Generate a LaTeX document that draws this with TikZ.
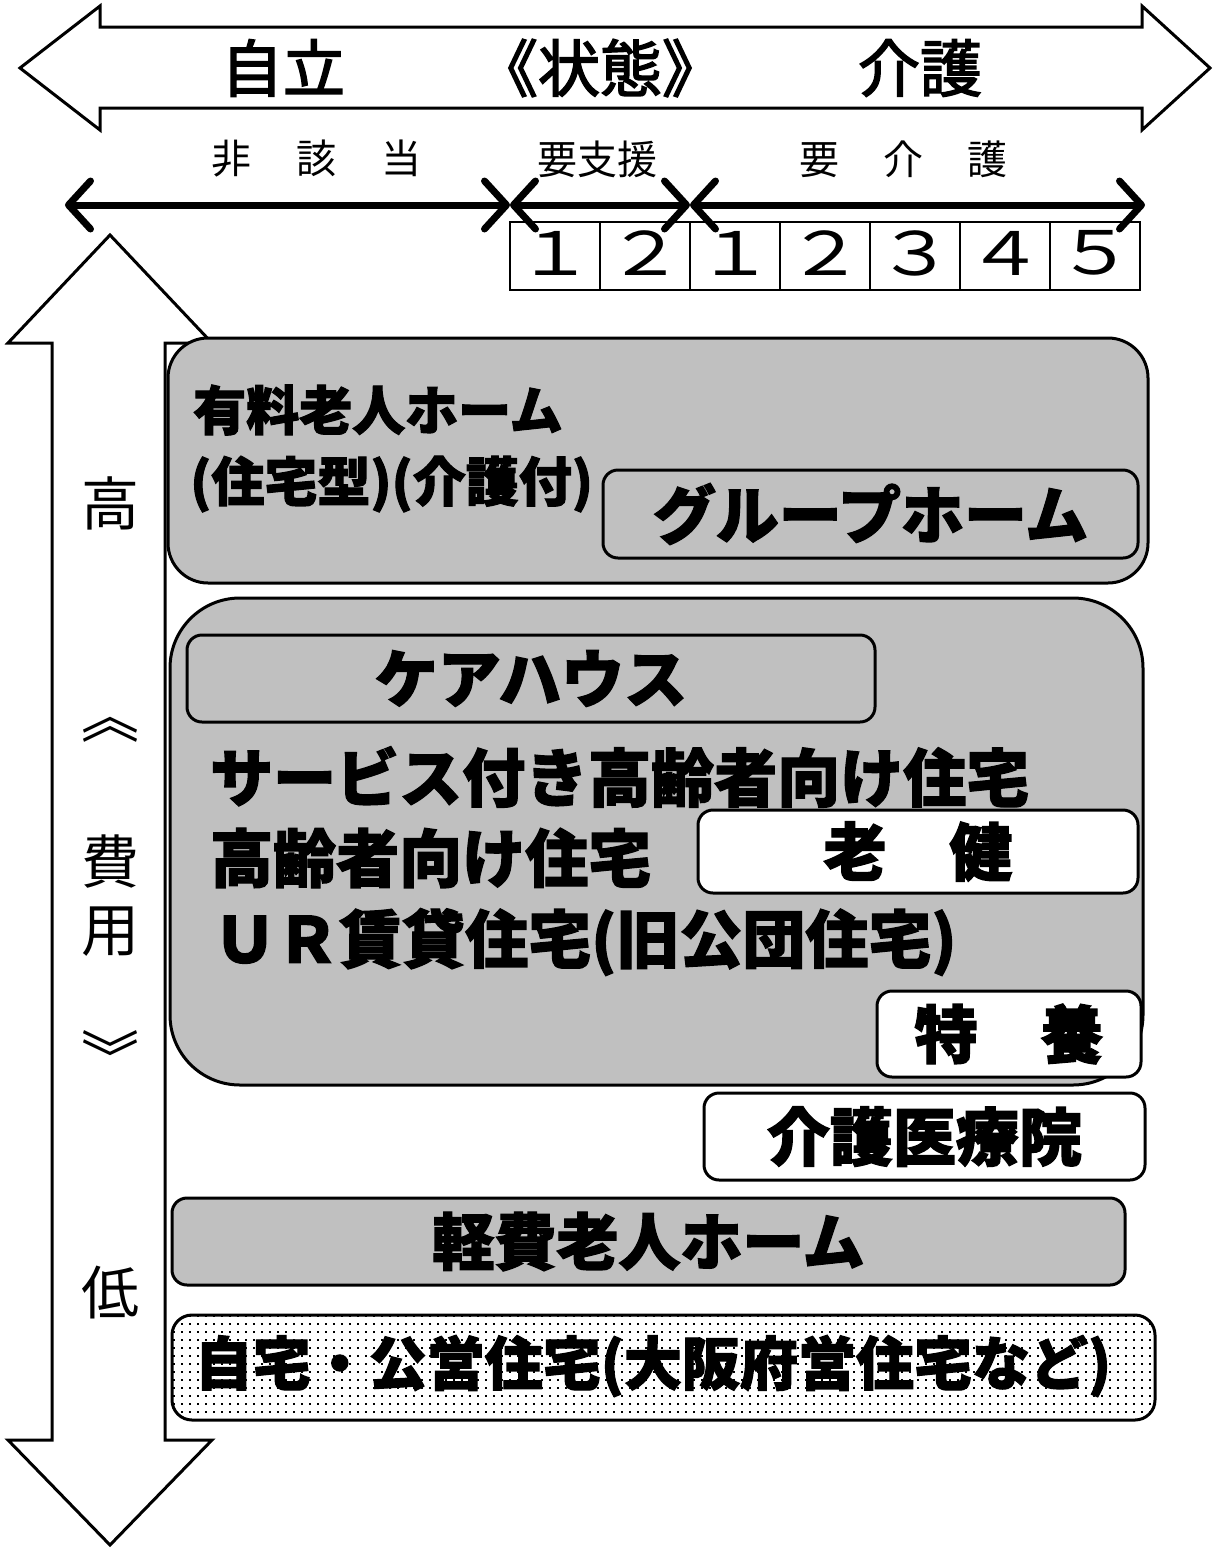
\documentclass[tikz,border=0pt]{standalone}
\usepackage{fontspec}
\usetikzlibrary{arrows.meta,patterns.meta}
\newfontfamily\jp{Noto Sans CJK JP}
\newfontfamily\jpm{Noto Sans CJK JP}[FakeBold=2.5]
\newfontfamily\heavy{Noto Sans CJK JP}[BoldFeatures={FakeBold=2}]
\newcommand\hv[1]{\heavy\bfseries\fontsize{#1}{#1}\selectfont}
\newcommand\lt[1]{\jp\fontsize{#1}{#1}\selectfont}
\newcommand\md[1]{\jpm\fontsize{#1}{#1}\selectfont}
\definecolor{boxgray}{RGB}{192,192,192}
\tikzdeclarepattern{
  name=dotgrid,
  bounding box={(0,0) and (7.5pt,7.5pt)},
  tile size={(7.5pt,7.5pt)},
  code={\fill (0pt,0pt) rectangle (2.1pt,2.1pt);}
}
\tikzset{
  outline/.style={draw=black, line width=3pt, line join=miter, fill=white},
  bx/.style={rectangle, draw=black, line width=3pt, inner sep=0pt, rounded corners=15pt},
  graybox/.style={bx, fill=boxgray},
  whitebox/.style={bx, fill=white},
  heavytxt/.style={inner sep=0pt, font={\hv{63}}},
  cell/.style={rectangle, draw=black, line width=2.5pt, minimum width=90pt, minimum height=68pt, inner sep=0pt},
  digit/.style={inner sep=0pt, font={\lt{60}}},
  vtxt/.style={inner sep=0pt, font={\lt{58}}},
  rowtxt/.style={inner sep=0pt, font={\lt{40}}},
  toptxt/.style={inner sep=0pt, font={\md{62}}},
  barrow/.style={line width=7pt, {Straight Barb[length=22pt,width=48pt,round]}-{Straight Barb[length=22pt,width=48pt,round]}}
}
\begin{document}
\begin{tikzpicture}[x=1pt,y=-1pt]
\useasboundingbox (0,0) rectangle (1227,1548);
\fill[white] (0,0) rectangle (1227,1548);

% top double arrow
\draw[outline] (20,68) -- (100,6) -- (100,27) -- (1142,27) -- (1142,6) -- (1210,68) -- (1142,130) -- (1142,108) -- (100,108) -- (100,130) -- cycle;
\node[toptxt] (jiritsu) at (283,68) {自立};
\node[toptxt] (jotai) at (600,68) {\makebox[0.5em][r]{《}状態\makebox[0.5em][l]{》}};
\node[toptxt] (kaigo) at (920,68) {介護};

% second row labels
\node[rowtxt] (higaito) at (316,159) {非\hspace{45pt}該\hspace{45pt}当};
\node[rowtxt] (yoshien) at (597,159) {要支援};
\node[rowtxt] (yokaigo) at (903,159) {要\hspace{44pt}介\hspace{44pt}護};

% range arrows
\coordinate (a0) at (65,205);
\coordinate (a1) at (510,205);
\coordinate (a2) at (690,205);
\coordinate (a3) at (1145,205);
\draw[barrow] (a0) -- (a1);
\draw[barrow] (a1) -- (a2);
\draw[barrow] (a2) -- (a3);

% level table
\node[cell] (c1) at (555,256) {};
\node[cell] (c2) at (645,256) {};
\node[cell] (c3) at (735,256) {};
\node[cell] (c4) at (825,256) {};
\node[cell] (c5) at (915,256) {};
\node[cell] (c6) at (1005,256) {};
\node[cell] (c7) at (1095,256) {};
\node[digit] (d1) at (555,253) {\scalebox{1.3}[1]{１}};
\node[digit] (d2) at (645,253) {\scalebox{1.3}[1]{２}};
\node[digit] (d3) at (735,253) {\scalebox{1.3}[1]{１}};
\node[digit] (d4) at (825,253) {\scalebox{1.3}[1]{２}};
\node[digit] (d5) at (915,253) {\scalebox{1.3}[1]{３}};
\node[digit] (d6) at (1005,253) {\scalebox{1.3}[1]{４}};
\node[digit] (d7) at (1095,253) {\scalebox{1.3}[1]{５}};

% vertical double arrow
\draw[outline] (110,235) -- (212,343) -- (165,343) -- (165,1440) -- (212,1440) -- (110,1545) -- (8,1440) -- (52,1440) -- (52,343) -- (8,343) -- cycle;
\node[vtxt] (taka) at (110,503) {高};
\node[vtxt] (vopen) at (110,730) {︽};
\node[vtxt] (hi) at (110,862) {費};
\node[vtxt] (yo) at (110,932) {用};
\node[vtxt] (vclose) at (110,1055) {︾};
\node[vtxt] (hiku) at (110,1293) {低};

% box 1
\node[graybox, rounded corners=40pt, minimum width=980pt, minimum height=245pt] (box1) at (658,460.5) {};
\node[inner sep=0pt, anchor=west, font={\hv{53}}] (yuryo) at (193,410) {有料老人ホーム};
\node[inner sep=0pt, anchor=west, font={\hv{53}}] (yuryo2) at (190,484) {(住宅型)(介護付)};
\node[graybox, minimum width=535pt, minimum height=88pt, heavytxt] (group) at (870.5,514) {グループホーム};

% box 2
\node[graybox, rounded corners=70pt, minimum width=973pt, minimum height=487pt] (box2) at (656.5,841.5) {};
\node[graybox, minimum width=688pt, minimum height=87pt, heavytxt] (care) at (531,678.5) {ケアハウス};
\node[heavytxt, anchor=west] (sakoju) at (210,777) {サービス付き高齢者向け住宅};
\node[heavytxt, anchor=west] (koju) at (210,858) {高齢者向け住宅};
\node[whitebox, minimum width=440pt, minimum height=83pt, heavytxt] (roken) at (918,851.5) {老　健};
\node[heavytxt, anchor=west] (ur) at (213,942) {ＵＲ賃貸住宅(旧公団住宅)};
\node[whitebox, minimum width=264pt, minimum height=86pt, heavytxt] (tokuyo) at (1009,1034) {特　養};

% other boxes
\node[whitebox, minimum width=441pt, minimum height=87pt, heavytxt] (iryoin) at (924.5,1136.5) {介護医療院};
\node[graybox, minimum width=953pt, minimum height=87pt, font={\hv{62}}] (keihi) at (648.5,1241.5) {軽費老人ホーム};
\node[bx, rounded corners=20pt, minimum width=983pt, minimum height=105pt, preaction={fill=white}, pattern=dotgrid] (jitaku) at (663.5,1367.5) {};
\node[inner sep=0pt, font={\hv{58}}] (jitakutxt) at (653,1366) {自宅・公営住宅(大阪府営住宅など)};
\end{tikzpicture}
\end{document}
